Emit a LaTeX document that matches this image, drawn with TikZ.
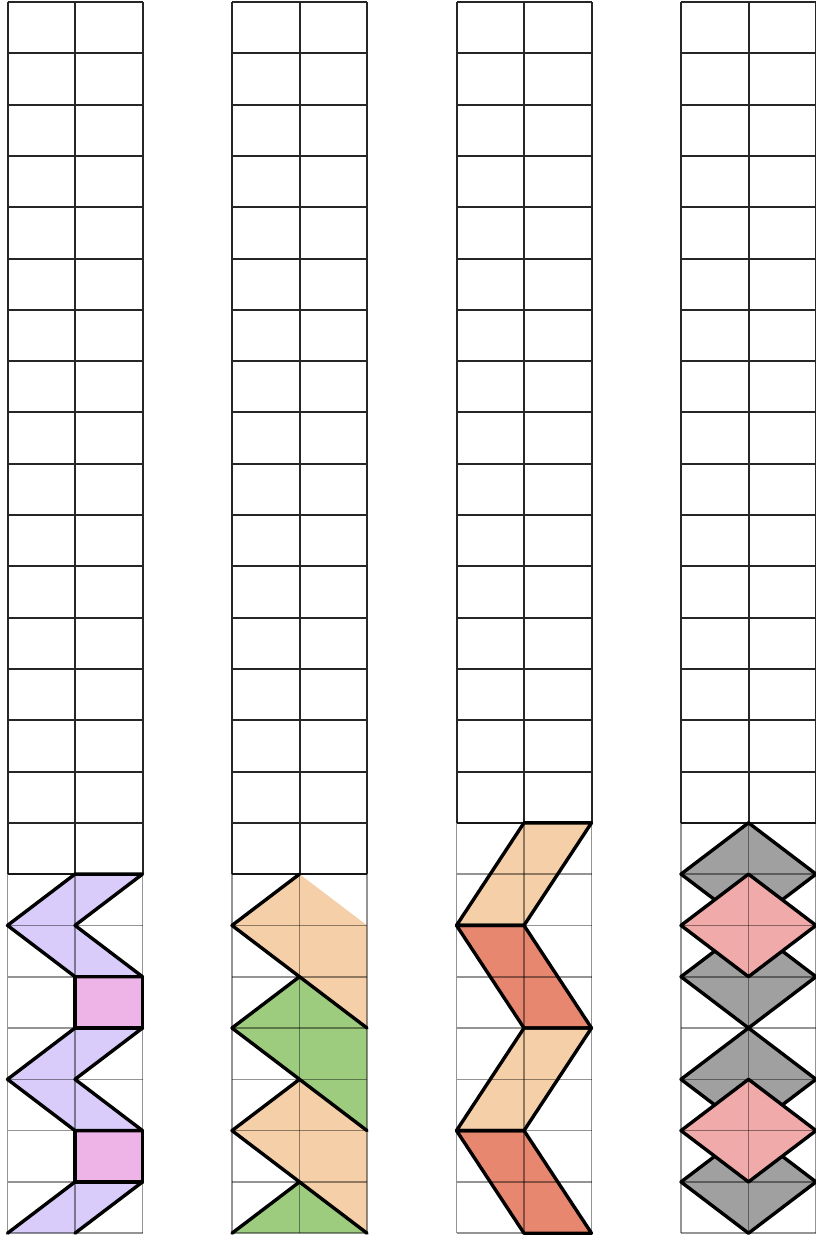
\documentclass[tikz,border=0pt]{standalone}
\usetikzlibrary{calc}
\definecolor{lav}{HTML}{D9CCFA}
\definecolor{pinksq}{HTML}{EEB4E8}
\definecolor{peach}{HTML}{F5CFA7}
\definecolor{leaf}{HTML}{9DCC7E}
\definecolor{brick}{HTML}{E8876F}
\definecolor{stone}{HTML}{A0A0A0}
\definecolor{rose}{HTML}{F0AAAA}
\tikzset{
  gridd/.style={draw=black!85, line width=2pt},
  gridl/.style={draw=black, opacity=0.42, line width=1.6pt},
  outl/.style={draw=black, line width=3.4pt, line join=round, line cap=round},
  col/.style={x=67.5pt, y=-51.3pt}
}
\newcommand{\darkgrid}[1]{%
  \foreach \k in {0,...,#1} \draw[gridd] (0,\k) -- (2,\k);
  \foreach \i in {0,1,2} \draw[gridd] (\i,0) -- (\i,#1);}
\newcommand{\lightgrid}[1]{%
  \foreach \k in {#1,...,24} \draw[gridl] (0,\k) -- (2,\k);
  \foreach \i in {0,1,2} \draw[gridl] (\i,#1) -- (\i,24);}
\begin{document}
\begin{tikzpicture}[x=1pt,y=-1pt]
\useasboundingbox[fill=white] (0,0) rectangle (816,1235);

% ---------- column 1 ----------
\begin{scope}[shift={(7.5,2)}, col]
  \foreach \a in {17,20}
    \fill[lav] (1,\a) -- (2,\a) -- (1,\a+1) -- (2,\a+2) -- (1,\a+2) -- (0,\a+1) -- cycle;
  \fill[lav] (1,23) -- (2,23) -- (1,24) -- (0,24) -- cycle;
  \fill[pinksq] (1,19) rectangle (2,20);
  \fill[pinksq] (1,22) rectangle (2,23);
  \darkgrid{17}
  \lightgrid{17}
  \foreach \a in {17,20}
    \draw[outl] (1,\a) -- (2,\a) -- (1,\a+1) -- (2,\a+2) -- (1,\a+2) -- (0,\a+1) -- cycle;
  \draw[outl] (1,19) rectangle (2,20);
  \draw[outl] (1,22) rectangle (2,23);
  \draw[outl] (0,24) -- (1,23) -- (2,23) -- (1,24);
\end{scope}

% ---------- column 2 ----------
\begin{scope}[shift={(232,2)}, col]
  \fill[peach] (1,17) -- (2,18) -- (2,20) -- (1,19) -- (0,18) -- cycle;
  \fill[leaf]  (1,19) -- (2,20) -- (2,22) -- (1,21) -- (0,20) -- cycle;
  \fill[peach] (1,21) -- (2,22) -- (2,24) -- (1,23) -- (0,22) -- cycle;
  \fill[leaf]  (1,23) -- (2,24) -- (0,24) -- cycle;
  \darkgrid{17}
  \lightgrid{17}
  \draw[outl] (1,17) -- (0,18) -- (1,19) -- (2,20);
  \draw[outl] (1,19) -- (0,20) -- (1,21) -- (2,22);
  \draw[outl] (1,21) -- (0,22) -- (1,23) -- (2,24);
  \draw[outl] (0,24) -- (1,23);
\end{scope}

% ---------- column 3 ----------
\begin{scope}[shift={(456.5,2)}, col]
  \fill[peach] (1,16) -- (2,16) -- (1,18) -- (0,18) -- cycle;
  \fill[brick] (0,18) -- (1,18) -- (2,20) -- (1,20) -- cycle;
  \fill[peach] (1,20) -- (2,20) -- (1,22) -- (0,22) -- cycle;
  \fill[brick] (0,22) -- (1,22) -- (2,24) -- (1,24) -- cycle;
  \darkgrid{16}
  \lightgrid{16}
  \draw[outl] (1,16) -- (2,16) -- (1,18) -- (0,18) -- cycle;
  \draw[outl] (0,18) -- (1,18) -- (2,20) -- (1,20) -- cycle;
  \draw[outl] (1,20) -- (2,20) -- (1,22) -- (0,22) -- cycle;
  \draw[outl] (0,22) -- (1,22) -- (2,24) -- (1,24) -- cycle;
\end{scope}

% ---------- column 4 ----------
\begin{scope}[shift={(681,2)}, col]
  \darkgrid{16}
  \foreach \c in {17,19,21,23}
    \fill[stone] (1,\c-1) -- (2,\c) -- (1,\c+1) -- (0,\c) -- cycle;
  \lightgrid{16}
  \foreach \c in {17,19,21,23}
    \draw[outl] (1,\c-1) -- (2,\c) -- (1,\c+1) -- (0,\c) -- cycle;
  \foreach \c in {18,22} {
    \fill[rose] (1,\c-1) -- (2,\c) -- (1,\c+1) -- (0,\c) -- cycle;
    \begin{scope}
      \clip (1,\c-1) -- (2,\c) -- (1,\c+1) -- (0,\c) -- cycle;
      \draw[gridl] (0,\c) -- (2,\c);
      \draw[gridl] (1,\c-1) -- (1,\c+1);
    \end{scope}
    \draw[outl] (1,\c-1) -- (2,\c) -- (1,\c+1) -- (0,\c) -- cycle;
  }
\end{scope}
\end{tikzpicture}
\end{document}
